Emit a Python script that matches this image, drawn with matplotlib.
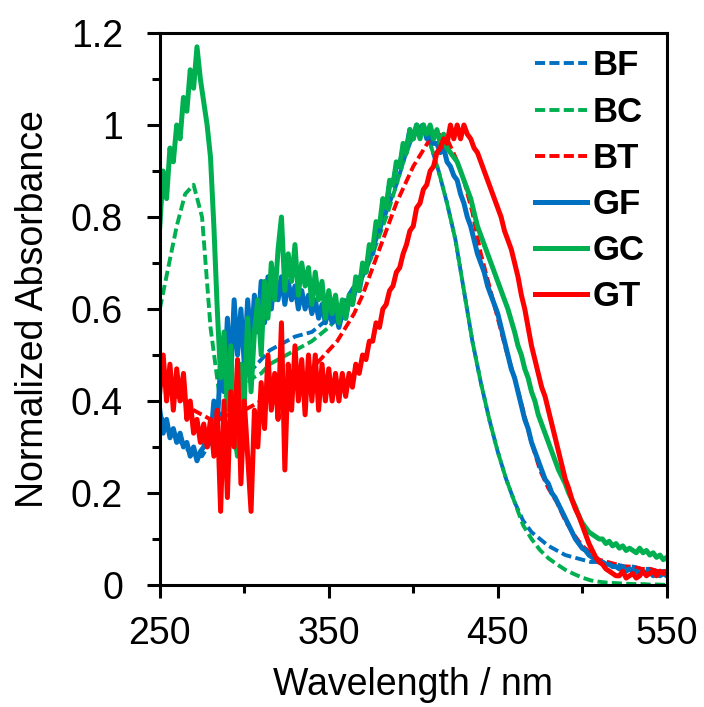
import numpy as np
import matplotlib.pyplot as plt

plt.rcParams['font.family'] = ['Liberation Sans', 'DejaVu Sans']

# wavelength grids (nm)
wl_fine = np.arange(250, 551, 2)
wl_coarse = np.arange(250, 551, 5)

# B series (dashed), read every 5 nm
BF = [0.37, 0.34, 0.32, 0.30, 0.28, 0.28, 0.31, 0.36, 0.40, 0.43,
      0.45, 0.47, 0.49, 0.51, 0.52, 0.53, 0.54, 0.545, 0.55, 0.565,
      0.58, 0.60, 0.62, 0.65, 0.68, 0.72, 0.77, 0.82, 0.87, 0.93,
      0.98, 1.00, 0.96, 0.90, 0.83, 0.75, 0.64, 0.53, 0.44, 0.36,
      0.29, 0.23, 0.18, 0.14, 0.115, 0.10, 0.085, 0.075, 0.065, 0.06,
      0.055, 0.05, 0.05, 0.045, 0.045, 0.04, 0.04, 0.035, 0.035, 0.03,
      0.03]
BC = [0.60, 0.69, 0.78, 0.85, 0.87, 0.80, 0.56, 0.42, 0.41, 0.42,
      0.43, 0.45, 0.46, 0.48, 0.49, 0.50, 0.51, 0.52, 0.53, 0.545,
      0.56, 0.58, 0.60, 0.63, 0.67, 0.71, 0.76, 0.81, 0.87, 0.93,
      0.98, 1.00, 0.96, 0.90, 0.83, 0.75, 0.64, 0.53, 0.44, 0.36,
      0.29, 0.23, 0.18, 0.13, 0.10, 0.076, 0.058, 0.045, 0.033, 0.024,
      0.016, 0.01, 0.007, 0.005, 0.004, 0.003, 0.002, 0.002, 0.001, 0.001,
      0.0]
BT = [0.44, 0.43, 0.41, 0.40, 0.38, 0.37, 0.36, 0.36, 0.37, 0.37,
      0.38, 0.39, 0.40, 0.41, 0.42, 0.43, 0.44, 0.45, 0.47, 0.49,
      0.51, 0.53, 0.56, 0.59, 0.63, 0.68, 0.73, 0.78, 0.83, 0.87,
      0.91, 0.94, 0.97, 0.98, 0.97, 0.93, 0.88, 0.81, 0.72, 0.65,
      0.58, 0.51, 0.45, 0.38, 0.31, 0.25, 0.21, 0.18, 0.14, 0.11,
      0.085, 0.07, 0.055, 0.05, 0.045, 0.04, 0.04, 0.035, 0.035, 0.03,
      0.03]

# G series (solid, noisy), read every 2 nm
GF = [0.38, 0.33, 0.36, 0.32, 0.34, 0.31, 0.33, 0.30, 0.31, 0.28, 0.30, 0.27, 0.29,
      0.30, 0.33, 0.31, 0.40, 0.35, 0.48, 0.42, 0.58, 0.45, 0.62, 0.50, 0.60,
      0.48, 0.62, 0.52, 0.63, 0.55, 0.66, 0.57, 0.67, 0.60, 0.68, 0.62, 0.67, 0.61,
      0.66, 0.62, 0.65, 0.60, 0.64, 0.60, 0.63, 0.59, 0.62, 0.58, 0.61, 0.57,
      0.60, 0.57, 0.59, 0.56, 0.59, 0.58, 0.62, 0.61, 0.65, 0.64, 0.68, 0.68, 0.72,
      0.72, 0.77, 0.77, 0.82, 0.82, 0.87, 0.87, 0.91, 0.91, 0.95, 0.95, 0.99,
      0.97, 1.00, 0.98, 1.00, 0.97, 0.99, 0.96, 0.96, 0.94, 0.95, 0.92, 0.91, 0.89,
      0.88, 0.85, 0.83, 0.80, 0.78, 0.75, 0.72, 0.70, 0.68, 0.65, 0.63, 0.61,
      0.59, 0.56, 0.53, 0.50, 0.47, 0.45, 0.42, 0.39, 0.36, 0.34, 0.31, 0.29, 0.27,
      0.25, 0.23, 0.22, 0.20, 0.19, 0.175, 0.16, 0.145, 0.13, 0.115, 0.10, 0.09,
      0.08, 0.075, 0.065, 0.06, 0.055, 0.05, 0.05, 0.045, 0.045, 0.04, 0.04, 0.035, 0.04,
      0.03, 0.035, 0.03, 0.03, 0.025, 0.03, 0.025, 0.03, 0.02, 0.025, 0.02, 0.025,
      0.02]
GC = [0.78, 0.90, 0.84, 0.95, 0.92, 1.00, 0.97, 1.06, 1.03, 1.12, 1.08, 1.17, 1.10,
      1.05, 1.00, 0.93, 0.78, 0.60, 0.45, 0.55, 0.38, 0.52, 0.33, 0.28, 0.48,
      0.40, 0.58, 0.42, 0.55, 0.62, 0.50, 0.66, 0.58, 0.70, 0.62, 0.73, 0.80, 0.64,
      0.72, 0.66, 0.74, 0.63, 0.70, 0.65, 0.69, 0.61, 0.68, 0.62, 0.66, 0.58,
      0.64, 0.59, 0.63, 0.57, 0.62, 0.58, 0.63, 0.61, 0.67, 0.64, 0.70, 0.68, 0.74,
      0.73, 0.79, 0.78, 0.84, 0.82, 0.88, 0.87, 0.92, 0.91, 0.96, 0.94, 0.99,
      0.97, 1.00, 0.97, 1.00, 0.98, 1.00, 0.97, 0.99, 0.96, 0.98, 0.95, 0.94, 0.93,
      0.92, 0.90, 0.88, 0.86, 0.84, 0.81, 0.78, 0.76, 0.74, 0.72, 0.70, 0.68,
      0.66, 0.64, 0.62, 0.60, 0.575, 0.55, 0.52, 0.50, 0.47, 0.45, 0.42, 0.40, 0.37,
      0.35, 0.33, 0.31, 0.29, 0.27, 0.25, 0.235, 0.22, 0.20, 0.185, 0.17, 0.15,
      0.135, 0.125, 0.115, 0.11, 0.105, 0.10, 0.10, 0.09, 0.095, 0.085, 0.09, 0.08, 0.085,
      0.075, 0.08, 0.075, 0.07, 0.08, 0.07, 0.075, 0.065, 0.07, 0.06, 0.065, 0.055,
      0.06]
GT = [0.42, 0.50, 0.40, 0.48, 0.38, 0.47, 0.40, 0.46, 0.36, 0.40, 0.33, 0.36, 0.31,
      0.35, 0.30, 0.36, 0.28, 0.38, 0.16, 0.40, 0.19, 0.42, 0.30, 0.49, 0.22,
      0.40, 0.28, 0.16, 0.38, 0.30, 0.44, 0.34, 0.50, 0.38, 0.46, 0.36, 0.57, 0.25,
      0.48, 0.38, 0.52, 0.40, 0.49, 0.37, 0.50, 0.40, 0.50, 0.38, 0.48, 0.40,
      0.47, 0.40, 0.46, 0.40, 0.46, 0.41, 0.46, 0.43, 0.48, 0.46, 0.50, 0.49, 0.53,
      0.53, 0.57, 0.56, 0.60, 0.61, 0.64, 0.65, 0.68, 0.69, 0.72, 0.74, 0.77,
      0.78, 0.82, 0.83, 0.86, 0.87, 0.90, 0.91, 0.94, 0.95, 0.97, 0.96, 1.00, 0.97,
      1.00, 0.97, 1.00, 0.98, 0.97, 0.95, 0.94, 0.92, 0.90, 0.88, 0.86, 0.84,
      0.82, 0.80, 0.77, 0.75, 0.73, 0.70, 0.67, 0.63, 0.60, 0.56, 0.52, 0.49, 0.46,
      0.43, 0.41, 0.38, 0.35, 0.32, 0.29, 0.26, 0.23, 0.21, 0.185, 0.165, 0.15,
      0.13, 0.11, 0.09, 0.075, 0.06, 0.05, 0.045, 0.035, 0.03, 0.025, 0.02, 0.02, 0.03,
      0.015, 0.02, 0.025, 0.015, 0.02, 0.03, 0.02, 0.025, 0.03, 0.02, 0.03, 0.025,
      0.03]

blue = '#0070C0'
green = '#00B050'
red = '#FF0000'

fig = plt.figure(figsize=(7.04, 7.07), dpi=100)
ax = fig.add_axes([0.227, 0.1726, 0.720, 0.7807])

dash = (0, (2.6, 1.1))
ax.plot(wl_coarse, BF, color=blue, lw=2.8, linestyle=dash, label='BF')
ax.plot(wl_coarse, BC, color=green, lw=2.8, linestyle=dash, label='BC')
ax.plot(wl_coarse, BT, color=red, lw=2.8, linestyle=dash, label='BT')
ax.plot(wl_fine, GF, color=blue, lw=3.6, label='GF')
ax.plot(wl_fine, GC, color=green, lw=3.6, label='GC')
ax.plot(wl_fine, GT, color=red, lw=3.6, label='GT')

ax.set_xlim(250, 550)
ax.set_ylim(0, 1.2)
ax.set_xticks([250, 350, 450, 550])
ax.set_xticks([300, 400, 500], minor=True)
ax.set_yticks([0, 0.2, 0.4, 0.6, 0.8, 1.0, 1.2])
ax.set_yticklabels(['0', '0.2', '0.4', '0.6', '0.8', '1', '1.2'])
ax.set_yticks([0.1, 0.3, 0.5, 0.7, 0.9, 1.1], minor=True)

for s in ax.spines.values():
    s.set_linewidth(2.2)
ax.tick_params(which='both', direction='out', width=2.2, labelsize=27)
ax.tick_params(which='major', length=9.5)
ax.tick_params(which='minor', length=6)
ax.tick_params(axis='y', pad=17)
ax.tick_params(axis='x', pad=13)

ax.set_xlabel('Wavelength / nm', fontsize=27, labelpad=11)
ax.set_ylabel('Normalized Absorbance', fontsize=27, labelpad=14)

ax.legend(loc='upper left', bbox_to_anchor=(0.760, 0.930), bbox_transform=fig.transFigure,
          frameon=False, borderpad=0, handlelength=1.5, handletextpad=0.15,
          labelspacing=0.38, borderaxespad=0,
          prop={'size': 25, 'weight': 'bold'})

fig.savefig('out.png', dpi=100)
